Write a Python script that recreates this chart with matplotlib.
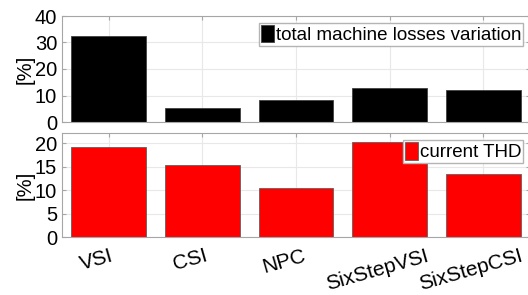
import matplotlib
matplotlib.use("Agg")
import matplotlib.pyplot as plt
import matplotlib.transforms as mtransforms
import numpy as np

# --- datos ---
categorias = ["VSI", "CSI", "NPC", "SixStepVSI", "SixStepCSI"]
perdidas = [32.6, 5.4, 8.3, 12.9, 12.1]     # total machine losses variation [%]
thd = [19.2, 15.4, 10.5, 20.3, 13.4]        # current THD [%]

plt.rcParams['font.family'] = ['Liberation Sans', 'DejaVu Sans']
plt.rcParams['font.size'] = 13.5

W, H = 528, 295
fig = plt.figure(figsize=(W / 100, H / 100), dpi=100)

x = np.arange(1, len(categorias) + 1)
ax1 = fig.add_axes([62 / W, (H - 122) / H, 468 / W, 106 / H])
ax2 = fig.add_axes([62 / W, (H - 237.3) / H, 468 / W, 104 / H])


def estilo(ax):
    ax.set_xlim(0.5, 5.5)
    ax.grid(True, color='#e8e8e8', linewidth=0.8)
    ax.set_axisbelow(True)
    for s in ax.spines.values():
        s.set_color('#a6a6a6')
        s.set_linewidth(0.8)
    ax.tick_params(axis='both', length=3, direction='in', color='#a6a6a6',
                   pad=3.5, top=True, right=True)
    ax.tick_params(axis='y', labelsize=14.5)
    ax.set_ylabel('[%]', fontsize=14.5, labelpad=0)


def leyenda(ax):
    ax.legend(loc='upper right', fontsize=13.5, frameon=True, fancybox=False,
              edgecolor='#b4b4b4', framealpha=1, handlelength=0.7, handleheight=1.05,
              handletextpad=0.08, borderpad=0.12, borderaxespad=0.35)


ax1.bar(x, perdidas, width=0.8, color='black', edgecolor='#404040', linewidth=0.6,
        label='total machine losses variation')
estilo(ax1)
ax1.set_ylim(0, 40)
ax1.set_yticks([0, 10, 20, 30, 40])
ax1.set_xticks(x)
ax1.set_xticklabels([])
leyenda(ax1)

ax2.bar(x, thd, width=0.8, color='#ff0000', edgecolor='#606060', linewidth=0.6,
        label='current THD')
estilo(ax2)
ax2.set_ylim(0, 22.1)
ax2.set_yticks([0, 5, 10, 15, 20])
ax2.set_xticks(x)
ax2.set_xticklabels(categorias, rotation=16, ha='center', va='top', fontsize=15)
ax2.tick_params(axis='x', pad=6.5)
desplazamiento = mtransforms.ScaledTranslation(-12 / 100, 0, fig.dpi_scale_trans)
for etiqueta in ax2.get_xticklabels():
    etiqueta.set_transform(etiqueta.get_transform() + desplazamiento)
leyenda(ax2)

fig.savefig('out.png', dpi=100)
